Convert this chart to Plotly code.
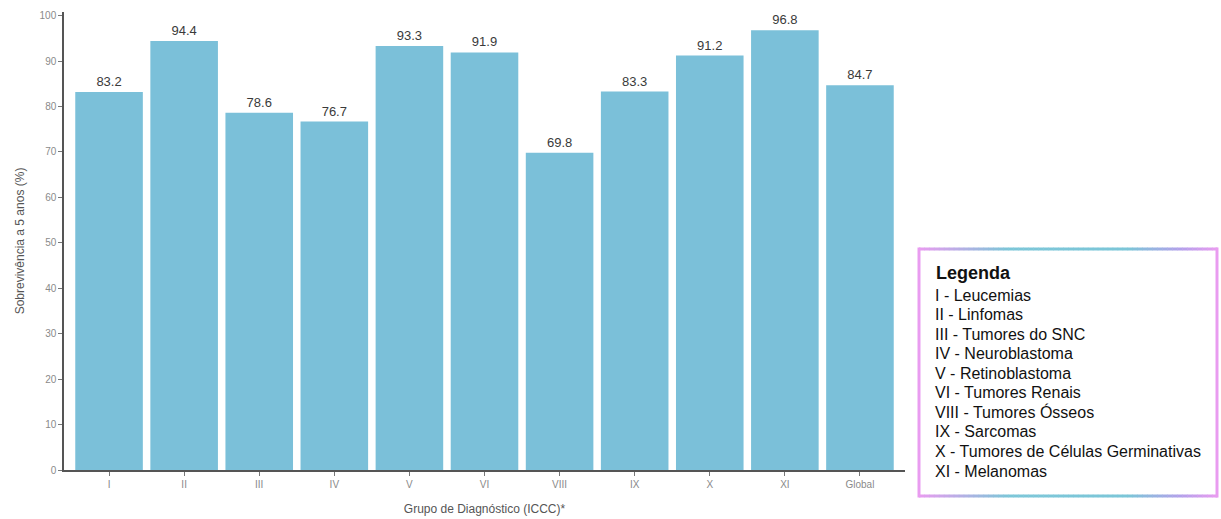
import plotly.graph_objects as go

categories = ["I", "II", "III", "IV", "V", "VI", "VIII", "IX", "X", "XI", "Global"]
survival = [83.2, 94.4, 78.6, 76.7, 93.3, 91.9, 69.8, 83.3, 91.2, 96.8, 84.7]
y_ticks = [0, 10, 20, 30, 40, 50, 60, 70, 80, 90, 100]
legend_title = "Legenda"
legend_items = [
    "I - Leucemias",
    "II - Linfomas",
    "III - Tumores do SNC",
    "IV - Neuroblastoma",
    "V - Retinoblastoma",
    "VI - Tumores Renais",
    "VIII - Tumores Ósseos",
    "IX - Sarcomas",
    "X - Tumores de Células Germinativas",
    "XI - Melanomas",
]

W, H = 1221, 519
L, R, T, B = 64, 905, 12, 470


def px(x):
    return (x - L) / (R - L)


def py(y):
    return (B - y) / (B - T)


fig = go.Figure()
fig.add_trace(go.Bar(
    x=categories, y=survival,
    marker=dict(color="#7bc0d9", line=dict(width=0)),
    width=0.9,
    text=[f"{v:.1f}" for v in survival],
    textposition="outside",
    textfont=dict(family="Liberation Sans, Arial", size=13, color="#3a3a3a"),
    cliponaxis=False,
    hoverinfo="skip",
))

fig.update_layout(
    width=W, height=H,
    margin=dict(l=L, r=W - R, t=T, b=H - B, autoexpand=False),
    paper_bgcolor="white", plot_bgcolor="white",
    showlegend=False,
    bargap=0.1,
    xaxis=dict(
        range=[-0.6, 10.6],
        automargin=False,
        showgrid=False, zeroline=False,
        showline=True, linecolor="#555555", linewidth=1.5,
        ticks="outside", ticklen=4, tickcolor="#777777", tickwidth=1,
        tickfont=dict(family="Liberation Sans, Arial", size=10, color="#8a8a8a"),
        title=dict(text="Grupo de Diagnóstico (ICCC)*",
                   font=dict(family="Liberation Sans, Arial", size=12, color="#555555"),
                   standoff=16),
    ),
    yaxis=dict(
        range=[0, 100.8],
        automargin=False,
        tickvals=y_ticks,
        showgrid=False, zeroline=False,
        showline=True, linecolor="#555555", linewidth=1.5,
        ticks="outside", ticklen=4, tickcolor="#777777", tickwidth=1,
        tickfont=dict(family="Liberation Sans, Arial", size=10, color="#8a8a8a"),
        title=dict(text="Sobrevivência a 5 anos (%)",
                   font=dict(family="Liberation Sans, Arial", size=12, color="#555555"),
                   standoff=12),
    ),
)

# Legend box with gradient-like border
bx0, bx1, by0, by1 = 919, 1217, 249, 496
pink = (233, 156, 240)
teal = (124, 198, 216)
purple = (180, 160, 235)


def lerp(c1, c2, t):
    return "rgb(%d,%d,%d)" % tuple(int(a + (b - a) * t) for a, b in zip(c1, c2))


def edge_color(t):
    if t < 0.3:
        return lerp(pink, teal, t / 0.3)
    if t < 0.7:
        return lerp(teal, teal, 0)
    if t < 0.88:
        return lerp(teal, purple, (t - 0.7) / 0.18)
    return lerp(purple, pink, (t - 0.88) / 0.12)


fig.add_shape(type="rect", xref="paper", yref="paper",
              x0=px(bx0), x1=px(bx1), y0=py(by1), y1=py(by0),
              fillcolor="white", line=dict(width=0), layer="above")
n = 60
for yy in (by0, by1):
    for i in range(n):
        t0, t1 = i / n, (i + 1) / n
        fig.add_shape(type="line", xref="paper", yref="paper",
                      x0=px(bx0 + (bx1 - bx0) * t0), x1=px(bx0 + (bx1 - bx0) * t1 + 0.5),
                      y0=py(yy), y1=py(yy),
                      line=dict(color=edge_color((t0 + t1) / 2), width=3))
for xx in (bx0, bx1):
    fig.add_shape(type="line", xref="paper", yref="paper",
                  x0=px(xx), x1=px(xx), y0=py(by0 - 1.5), y1=py(by1 + 1.5),
                  line=dict(color="rgb(233,156,240)", width=3))

fig.add_annotation(xref="paper", yref="paper", x=px(934), y=py(273),
                   xanchor="left", yanchor="middle", showarrow=False,
                   text=f"<b>{legend_title}</b>",
                   font=dict(family="Liberation Sans Narrow, Arial Narrow, Liberation Sans", size=18, color="#111111"))
line_step = (471 - 295) / (len(legend_items) - 1)
for i, item in enumerate(legend_items):
    fig.add_annotation(xref="paper", yref="paper", x=px(933), y=py(295 + i * line_step),
                       xanchor="left", yanchor="middle", showarrow=False, align="left",
                       text=item,
                       font=dict(family="Liberation Sans, Arial", size=16, color="#111111"))

fig.write_html("out.html")
